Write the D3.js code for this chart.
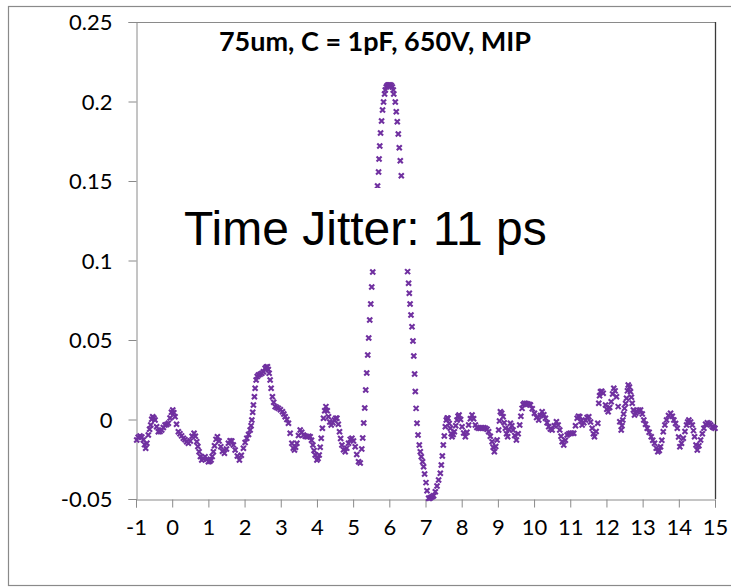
<!DOCTYPE html>
<html>
<head>
<meta charset="utf-8">
<script src="https://cdn.jsdelivr.net/npm/d3@7"></script>
<style>
  body { margin: 0; background: #fff; }
  svg { display: block; }
</style>
</head>
<body>
<div id="chart"></div>
<script>
// signal: [time, amplitude]
const jitterPoints = [
  [-0.98,-0.0129],[-0.94,-0.0112],[-0.889,-0.0104],[-0.84,-0.0110],[-0.798,-0.0129],
  [-0.765,-0.0158],[-0.732,-0.0181],[-0.70,-0.0150],[-0.660,-0.0097],[-0.625,-0.0062],
  [-0.593,-0.0035],[-0.565,0.0002],[-0.538,0.0018],[-0.505,0.0010],[-0.474,-0.0003],
  [-0.43,-0.0045],[-0.383,-0.0077],[-0.335,-0.0075],[-0.289,-0.0066],[-0.245,-0.0050],
  [-0.198,-0.0035],[-0.15,-0.0032],[-0.106,-0.0024],[-0.06,0.0010],[-0.02,0.0045],
  [0.015,0.0060],[0.045,0.0042],[0.079,0.0018],[0.12,-0.0030],[0.170,-0.0077],
  [0.215,-0.0090],[0.26,-0.0103],[0.308,-0.0118],[0.355,-0.0128],[0.40,-0.0140],
  [0.447,-0.0150],[0.50,-0.0135],[0.55,-0.0105],[0.604,-0.0087],[0.64,-0.0105],
  [0.679,-0.0140],[0.71,-0.0170],[0.743,-0.0203],[0.78,-0.0232],[0.817,-0.0255],
  [0.86,-0.0245],[0.909,-0.0234],[0.955,-0.0250],[1.000,-0.0265],[1.04,-0.0262],
  [1.075,-0.0255],[1.105,-0.0232],[1.138,-0.0203],[1.17,-0.0165],[1.21,-0.0125],
  [1.249,-0.0108],[1.295,-0.0135],[1.343,-0.0171],[1.39,-0.0200],[1.443,-0.0213],
  [1.50,-0.0185],[1.553,-0.0150],[1.60,-0.0133],[1.647,-0.0135],[1.69,-0.0160],
  [1.739,-0.0192],[1.80,-0.0230],[1.858,-0.0255],[1.91,-0.0225],[1.968,-0.0181],
  [2.015,-0.0145],[2.062,-0.0118],[2.11,-0.0095],[2.154,-0.0066],[2.18,-0.0040],
  [2.201,-0.0003],[2.225,0.0045],[2.245,0.0091],[2.272,0.0143],[2.292,0.0196],
  [2.320,0.0248],[2.35,0.0270],[2.383,0.0280],[2.43,0.0285],[2.477,0.0291],
  [2.52,0.0300],[2.568,0.0322],[2.60,0.0330],[2.632,0.0332],[2.655,0.0315],
  [2.679,0.0291],[2.707,0.0248],[2.734,0.0196],[2.770,0.0143],[2.805,0.0108],
  [2.845,0.0081],[2.89,0.0075],[2.936,0.0070],[2.99,0.0062],[3.047,0.0049],
  [3.085,0.0035],[3.122,0.0018],[3.17,0.0000],[3.213,-0.0024],[3.260,-0.0087],
  [3.307,-0.0150],[3.345,-0.0180],[3.379,-0.0192],[3.41,-0.0175],[3.445,-0.0150],
  [3.49,-0.0100],[3.537,-0.0066],[3.58,-0.0080],[3.628,-0.0097],[3.675,-0.0105],
  [3.722,-0.0108],[3.77,-0.0105],[3.813,-0.0108],[3.85,-0.0130],[3.888,-0.0160],
  [3.92,-0.0195],[3.952,-0.0223],[3.999,-0.0255],[4.03,-0.0245],[4.062,-0.0223],
  [4.09,-0.0175],[4.118,-0.0118],[4.15,-0.0055],[4.181,0.0008],[4.215,0.0055],
  [4.248,0.0081],[4.285,0.0055],[4.320,0.0018],[4.355,-0.0015],[4.394,-0.0035],
  [4.44,-0.0020],[4.485,-0.0003],[4.52,0.0008],[4.552,0.0008],[4.59,-0.0030],
  [4.624,-0.0077],[4.655,-0.0120],[4.690,-0.0160],[4.735,-0.0190],[4.781,-0.0203],
  [4.825,-0.0180],[4.873,-0.0150],[4.92,-0.0125],[4.967,-0.0118],[5.01,-0.0135],
  [5.058,-0.0171],[5.10,-0.0220],[5.149,-0.0265],[5.196,-0.0274],
  [5.238,-0.0186],[5.265,-0.0116],[5.293,-0.0022],[5.321,0.0072],[5.348,0.0186],
  [5.376,0.0292],[5.404,0.0406],[5.431,0.0513],[5.459,0.0626],[5.487,0.0726],
  [5.514,0.0833],[5.542,0.0928],[5.675,0.1469],[5.703,0.1557],[5.717,0.1638],
  [5.736,0.1720],[5.758,0.1802],[5.786,0.1877],[5.813,0.1947],[5.841,0.1997],
  [5.869,0.2047],[5.888,0.2072],[5.916,0.2091],[5.943,0.2101],[5.971,0.2104],
  [5.999,0.2104],[6.026,0.2104],[6.054,0.2101],[6.082,0.2091],[6.109,0.2072],
  [6.123,0.2047],[6.165,0.1997],[6.192,0.1936],[6.220,0.1873],[6.248,0.1796],
  [6.275,0.1709],[6.303,0.1628],[6.331,0.1533],[6.505,0.0930],[6.533,0.0857],
  [6.552,0.0794],[6.574,0.0726],[6.599,0.0657],[6.627,0.0584],[6.654,0.0494],
  [6.676,0.0399],[6.699,0.0286],[6.718,0.0176],[6.740,0.0070],[6.765,-0.0024],
  [6.793,-0.0097],[6.829,-0.0160],[6.856,-0.0203],[6.884,-0.0234],[6.920,-0.0265],
  [6.948,-0.0297],[6.975,-0.0343],[7.014,-0.0397],[7.042,-0.0448],[7.086,-0.0496],
  [7.115,-0.0495],[7.147,-0.0491],[7.185,-0.0486],[7.224,-0.0479],[7.271,-0.0454],
  [7.318,-0.0418],[7.362,-0.0381],[7.409,-0.0338],[7.437,-0.0286],[7.465,-0.0230],
  [7.492,-0.0160],[7.520,-0.0104],[7.548,-0.0045],[7.575,-0.0003],[7.60,0.0010],
  [7.622,0.0008],[7.655,-0.0025],[7.686,-0.0055],[7.71,-0.0090],[7.733,-0.0108],
  [7.765,-0.0095],[7.797,-0.0077],[7.835,-0.0040],[7.871,-0.0003],[7.90,0.0020],
  [7.927,0.0028],[7.97,0.0000],[8.010,-0.0045],[8.055,-0.0085],[8.101,-0.0108],
  [8.145,-0.0080],[8.192,-0.0035],[8.24,0.0005],[8.286,0.0028],[8.33,0.0005],
  [8.378,-0.0035],[8.42,-0.0050],[8.47,-0.0055],[8.516,-0.0055],[8.56,-0.0052],
  [8.61,-0.0052],[8.654,-0.0055],[8.70,-0.0062],[8.745,-0.0077],[8.79,-0.0105],
  [8.840,-0.0140],[8.87,-0.0175],[8.903,-0.0203],[8.94,-0.0170],[8.978,-0.0129],
  [9.022,-0.0066],[9.045,-0.0010],[9.069,0.0049],[9.105,0.0040],[9.144,0.0018],
  [9.175,-0.0020],[9.207,-0.0055],[9.24,-0.0090],[9.271,-0.0108],[9.31,-0.0065],
  [9.346,-0.0024],[9.385,-0.0040],[9.420,-0.0066],[9.465,-0.0100],[9.512,-0.0129],
  [9.56,-0.0090],[9.603,-0.0035],[9.635,0.0020],[9.669,0.0070],[9.70,0.0095],
  [9.733,0.0102],[9.78,0.0100],[9.83,0.0097],[9.87,0.0094],[9.899,0.0091],
  [9.95,0.0068],[10.010,0.0039],[10.07,0.0012],[10.129,-0.0003],[10.175,0.0025],
  [10.223,0.0049],[10.27,0.0030],[10.314,0.0008],[10.36,-0.0020],[10.405,-0.0045],
  [10.45,-0.0060],[10.499,-0.0066],[10.56,-0.0040],[10.618,-0.0014],[10.665,-0.0035],
  [10.710,-0.0066],[10.745,-0.0105],[10.776,-0.0140],[10.820,-0.0160],[10.865,-0.0130],
  [10.914,-0.0097],[10.96,-0.0090],[11.006,-0.0087],[11.05,-0.0087],[11.097,-0.0087],
  [11.145,-0.0040],[11.191,0.0008],[11.227,0.0020],[11.263,0.0018],[11.295,-0.0010],
  [11.329,-0.0035],[11.375,-0.0020],[11.421,-0.0003],[11.465,0.0012],[11.512,0.0018],
  [11.56,-0.0015],[11.606,-0.0055],[11.64,-0.0090],[11.669,-0.0108],[11.715,-0.0075],
  [11.761,-0.0024],[11.788,0.0102],[11.81,0.0150],[11.835,0.0175],[11.87,0.0178],
  [11.910,0.0165],[11.974,0.0091],[12.01,0.0065],[12.048,0.0049],[12.09,0.0075],
  [12.131,0.0112],[12.17,0.0160],[12.203,0.0196],[12.24,0.0180],[12.278,0.0143],
  [12.325,0.0081],[12.369,-0.0014],[12.408,-0.0066],[12.43,-0.0040],[12.452,-0.0003],
  [12.475,0.0035],[12.499,0.0070],[12.53,0.0100],[12.555,0.0133],[12.58,0.0180],
  [12.602,0.0217],[12.635,0.0205],[12.665,0.0175],[12.69,0.0140],[12.712,0.0102],
  [12.745,0.0060],[12.776,0.0028],[12.81,0.0040],[12.851,0.0049],[12.895,0.0058],
  [12.942,0.0060],[12.99,0.0035],[13.033,-0.0003],[13.08,-0.0030],[13.127,-0.0055],
  [13.18,-0.0080],[13.238,-0.0108],[13.28,-0.0130],[13.329,-0.0150],[13.375,-0.0180],
  [13.420,-0.0203],[13.46,-0.0195],[13.495,-0.0171],[13.53,-0.0130],[13.570,-0.0077],
  [13.615,-0.0035],[13.661,-0.0003],[13.715,0.0025],[13.772,0.0039],[13.82,0.0020],
  [13.863,-0.0003],[13.91,-0.0025],[13.957,-0.0055],[13.995,-0.0110],[14.029,-0.0171],
  [14.075,-0.0150],[14.123,-0.0118],[14.17,-0.0075],[14.214,-0.0035],[14.245,-0.0015],
  [14.278,-0.0003],[14.325,-0.0015],[14.372,-0.0035],[14.405,-0.0070],[14.436,-0.0108],
  [14.475,-0.0160],[14.510,-0.0192],[14.555,-0.0165],[14.602,-0.0129],[14.65,-0.0090],
  [14.693,-0.0055],[14.74,-0.0030],[14.787,-0.0020],[14.84,-0.0025],[14.88,-0.0035],
  [14.925,-0.0045],[14.96,-0.0050],[15.0,-0.0055]
];

const xTicks = [-1, 0, 1, 2, 3, 4, 5, 6, 7, 8, 9, 10, 11, 12, 13, 14, 15];
const xTickLabels = ["-1", "0", "1", "2", "3", "4", "5", "6", "7", "8", "9", "10", "11", "12", "13", "14", "15"];
const yTicks = [-0.05, 0, 0.05, 0.1, 0.15, 0.2, 0.25];
const yTickLabels = ["-0.05", "0", "0.05", "0.1", "0.15", "0.2", "0.25"];
const chartTitle = "75um, C = 1pF, 650V, MIP";
const jitterNote = "Time Jitter: 11 ps";

const width = 731, height = 587;
const plot = {left: 136, right: 715, top: 22, bottom: 499};

const svg = d3.select("#chart")
  .append("svg")
  .attr("width", width)
  .attr("height", height);

svg.append("rect")
  .attr("width", width).attr("height", height)
  .attr("fill", "#fff");

// outer chart frame
svg.append("rect")
  .attr("x", 8.5).attr("y", 6.5)
  .attr("width", 760).attr("height", 579)
  .attr("fill", "none")
  .attr("stroke", "#8a8a8a")
  .attr("stroke-width", 1.2);

const x = d3.scaleLinear().domain([-1, 15]).range([plot.left, plot.right]);
const y = d3.scaleLinear().domain([-0.05, 0.25]).range([plot.bottom, plot.top]);

// plot area border (top / right)
svg.append("line")
  .attr("x1", plot.left).attr("x2", plot.right)
  .attr("y1", plot.top + 0.5).attr("y2", plot.top + 0.5)
  .attr("stroke", "#8a8a8a");
svg.append("line")
  .attr("x1", plot.right + 0.5).attr("x2", plot.right + 0.5)
  .attr("y1", plot.top).attr("y2", plot.bottom)
  .attr("stroke", "#3a3a3a").attr("stroke-width", 1.3);

const axisFont = "Lato, 'Open Sans', sans-serif";

const yAxis = svg.append("g")
  .attr("transform", "translate(" + (plot.left + 0.5) + ",0)")
  .call(d3.axisLeft(y)
    .tickValues(yTicks)
    .tickSize(8)
    .tickPadding(16)
    .tickFormat((d, i) => yTickLabels[i]));

const xAxis = svg.append("g")
  .attr("transform", "translate(0," + (plot.bottom + 0.5) + ")")
  .call(d3.axisBottom(x)
    .tickValues(xTicks)
    .tickSize(8)
    .tickFormat((d, i) => xTickLabels[i]));

[xAxis, yAxis].forEach(function(g) {
  g.select(".domain").attr("stroke", "#8a8a8a");
  g.selectAll(".tick line").attr("stroke", "#8a8a8a");
  g.selectAll(".tick text")
    .attr("fill", "#000")
    .style("font-family", axisFont)
    .style("font-size", "22px");
});
xAxis.selectAll(".tick text").attr("y", 35).attr("dy", null);
yAxis.selectAll(".tick text").attr("dy", "0.36em");

// x-shaped markers
const marker = "M-2.5,-2.5L2.5,2.5M-2.5,2.5L2.5,-2.5";
svg.append("g")
  .selectAll("path")
  .data(jitterPoints)
  .enter()
  .append("path")
  .attr("d", marker)
  .attr("transform", function(d) { return "translate(" + x(d[0]) + "," + y(d[1]) + ")"; })
  .attr("fill", "none")
  .attr("stroke", "#7030a0")
  .attr("stroke-width", 2.1);

// title
svg.append("text")
  .attr("x", 375).attr("y", 51)
  .attr("text-anchor", "middle")
  .style("font-family", axisFont)
  .style("font-weight", "bold")
  .style("font-size", "27px")
  .attr("fill", "#000")
  .text(chartTitle);

// text box with white fill sitting over the peak
svg.append("rect")
  .attr("x", 175).attr("y", 188)
  .attr("width", 380).attr("height", 78)
  .attr("fill", "#fff");
svg.append("text")
  .attr("x", 184).attr("y", 245)
  .style("font-family", "'Liberation Sans', Arial, sans-serif")
  .style("font-size", "48px")
  .attr("fill", "#000")
  .text(jitterNote);
</script>
</body>
</html>
